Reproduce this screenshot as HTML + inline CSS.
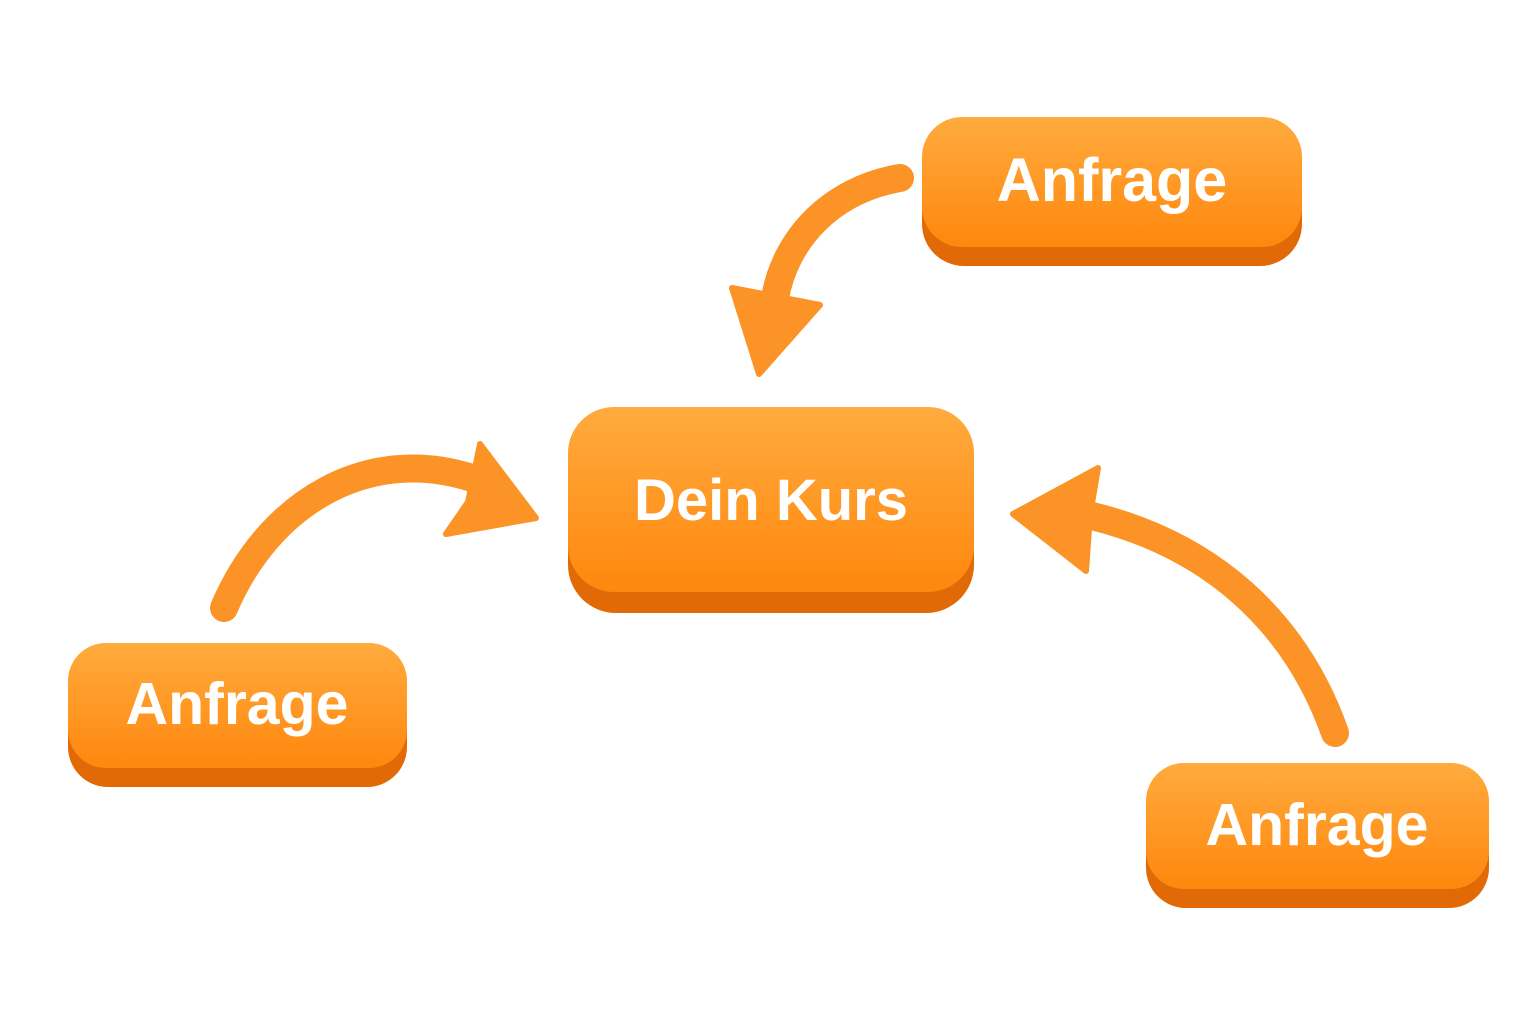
<!DOCTYPE html>
<html><head><meta charset="utf-8"><style>
html,body{margin:0;padding:0;background:#fff;}
svg{display:block;}
text{font-family:"Liberation Sans",sans-serif;font-weight:bold;fill:#fff;}
</style></head><body>
<svg width="1536" height="1024" viewBox="0 0 1536 1024" xmlns="http://www.w3.org/2000/svg">
<defs>
<linearGradient id="g" x1="0" y1="0" x2="0" y2="1">
<stop offset="0" stop-color="#ffab3e"/><stop offset="1" stop-color="#ff870e"/>
</linearGradient>
</defs>
<g>
<rect x="922" y="126" width="380" height="140" rx="42" fill="#e26a06"/>
<rect x="922" y="117" width="380" height="130" rx="40" fill="url(#g)"/>
<text x="1112" y="201" font-size="61" text-anchor="middle">Anfrage</text>

<rect x="568" y="420" width="406" height="193" rx="48" fill="#e26a06"/>
<rect x="568" y="407" width="406" height="185" rx="46" fill="url(#g)"/>
<text x="771" y="520" font-size="58" text-anchor="middle">Dein Kurs</text>

<rect x="68" y="652" width="339" height="135" rx="40" fill="#e26a06"/>
<rect x="68" y="643" width="339" height="125" rx="38" fill="url(#g)"/>
<text x="237" y="724" font-size="59" text-anchor="middle">Anfrage</text>

<rect x="1146" y="772" width="343" height="136" rx="40" fill="#e26a06"/>
<rect x="1146" y="763" width="343" height="126" rx="38" fill="url(#g)"/>
<text x="1317" y="845" font-size="59" text-anchor="middle">Anfrage</text>
</g>
<g fill="none" stroke="#fb9326" stroke-width="28" stroke-linejoin="round" stroke-linecap="round">
<path d="M900 178 C830 190 785 240 775 298"/>
<path d="M224 608 C270 500 370 445 472 478"/>
<path d="M1335 733 C1295 620 1210 545 1092 516"/>
</g>
<g fill="#fb9326" stroke="#fb9326" stroke-width="6" stroke-linejoin="round">
<polygon points="732,288 820,305 759,374"/>
<polygon points="480,444 536,518 446,534 468,502"/>
<polygon points="1013,514 1098,468 1090,515 1086,571"/>
</g>
</svg>
</body></html>
